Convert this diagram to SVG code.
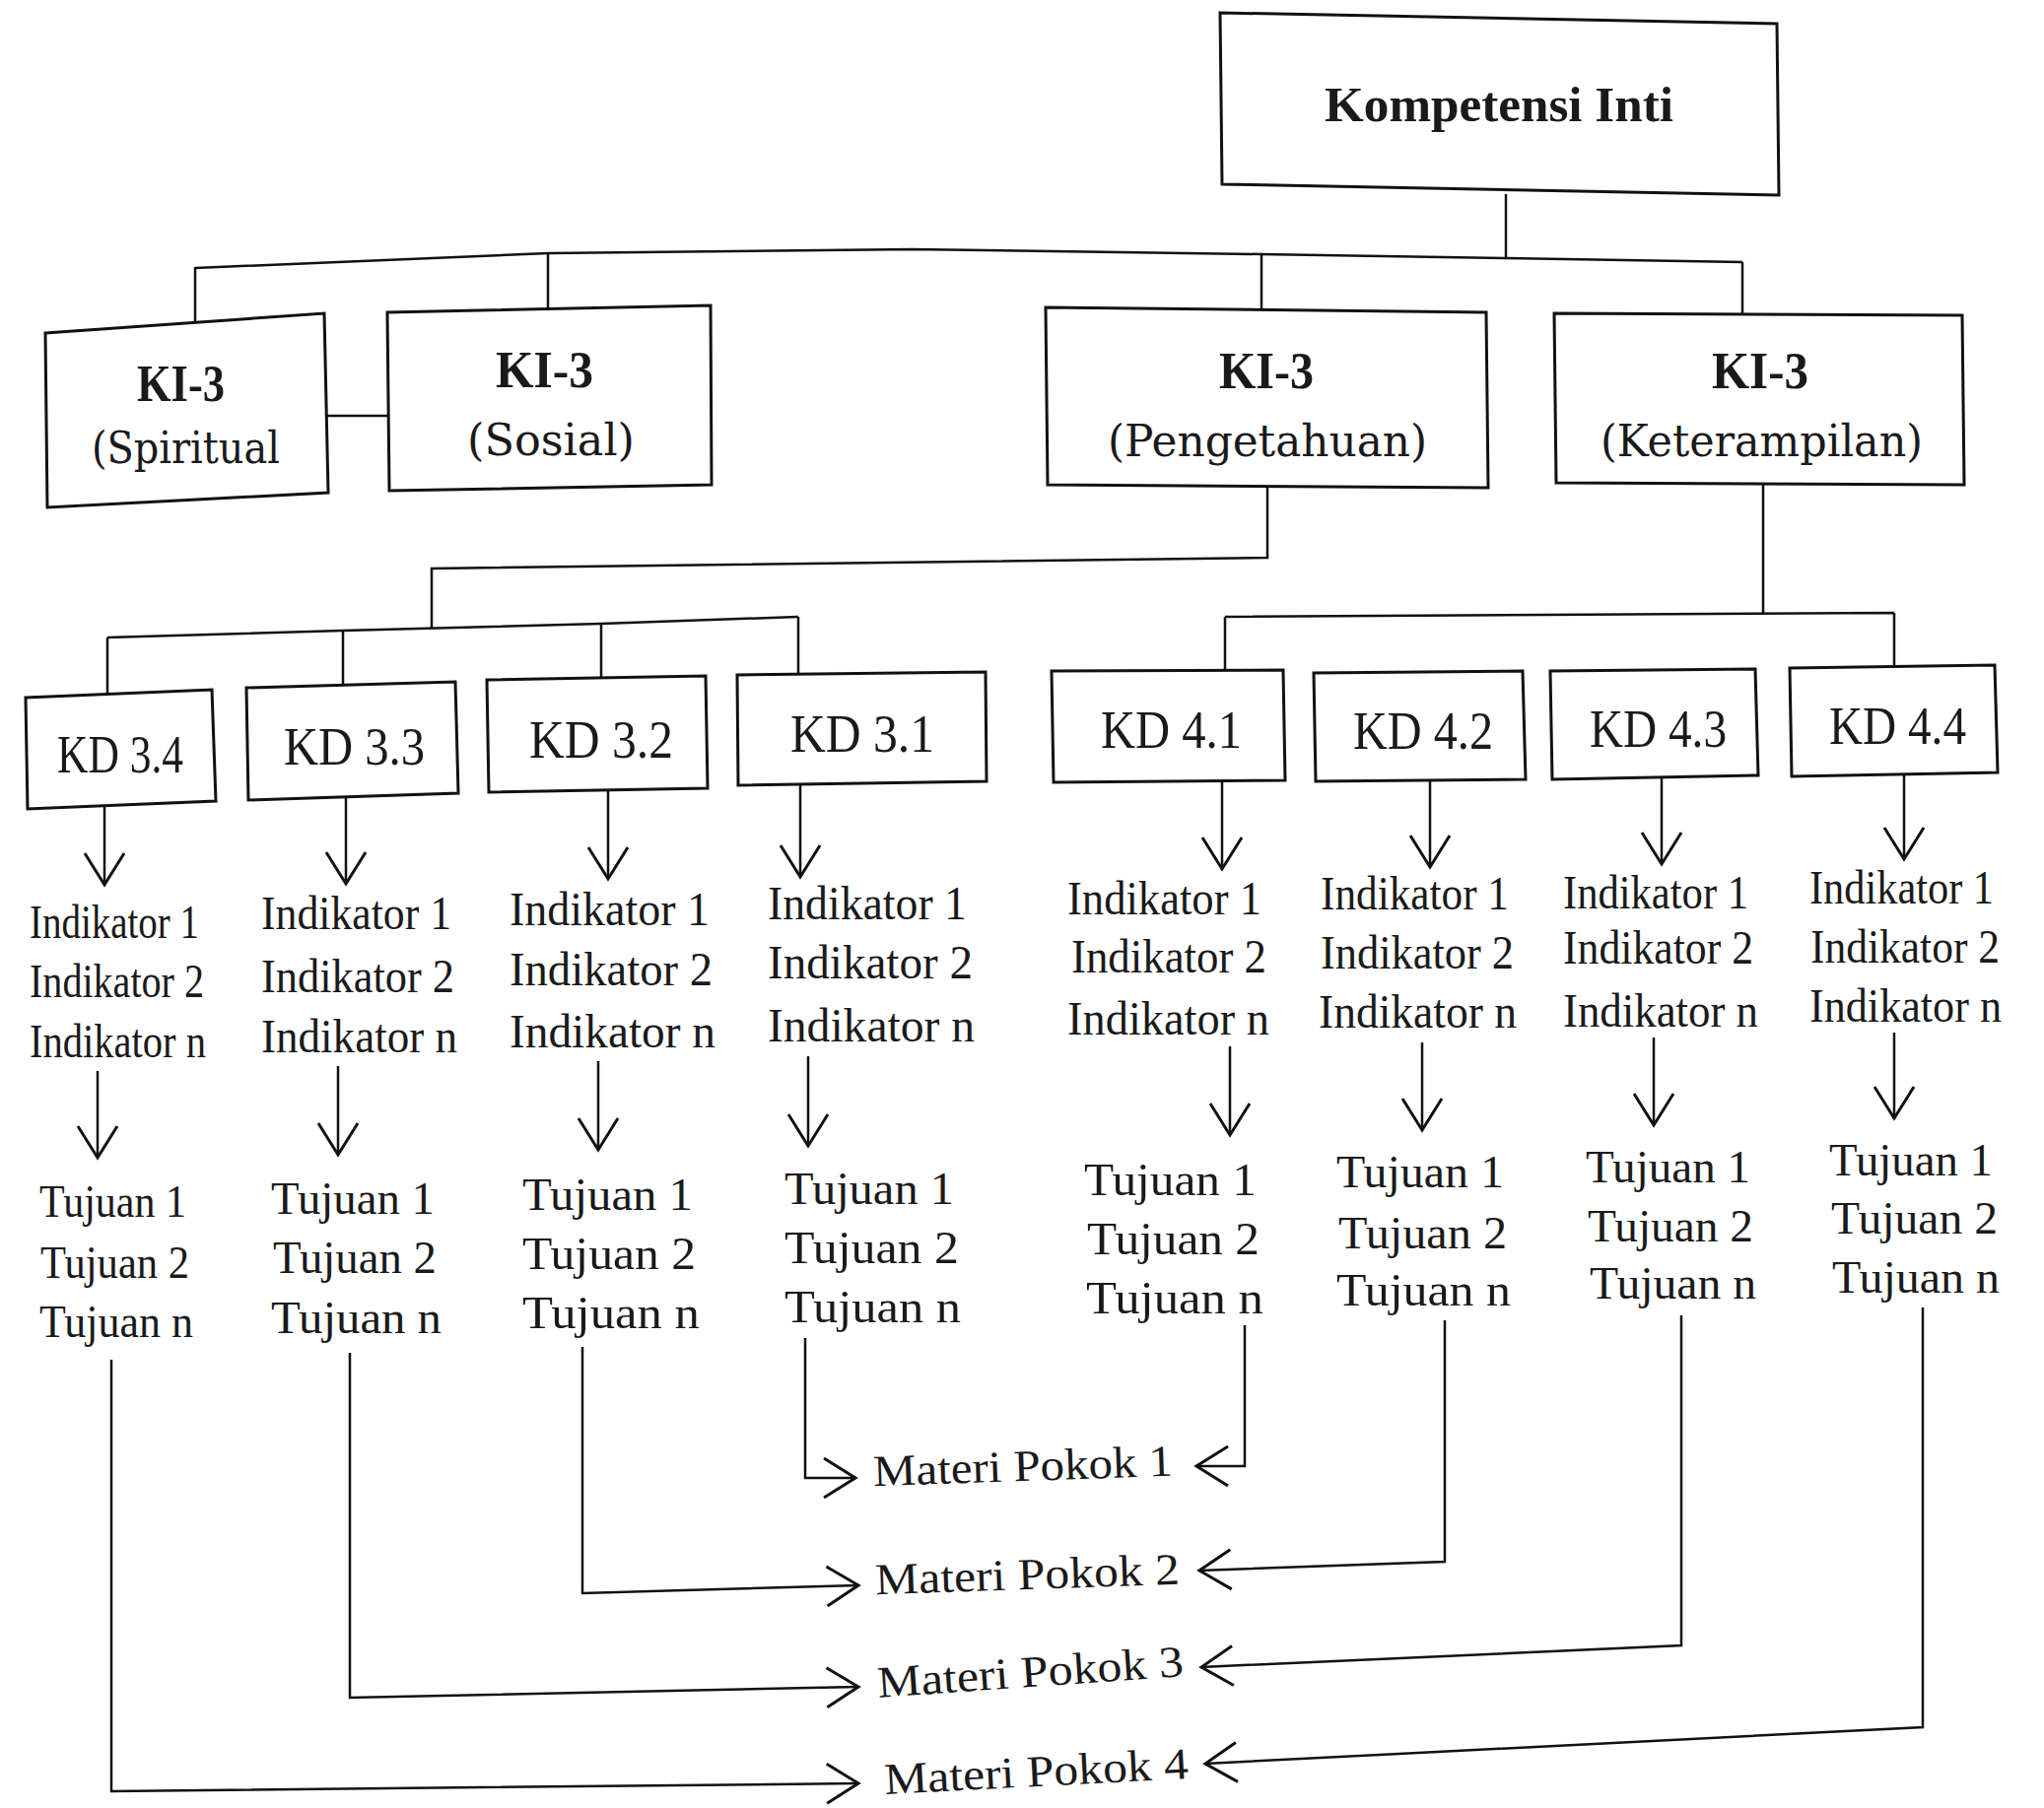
<svg xmlns="http://www.w3.org/2000/svg" width="2074" height="1835" viewBox="0 0 2074 1835">
<style>
.box{fill:#fff;stroke:#111;stroke-width:3;stroke-linejoin:miter}
.ln{fill:none;stroke:#111;stroke-width:2.5}
.ar{fill:none;stroke:#111;stroke-width:2.5;marker-end:url(#ah)}
.t{font-family:"Liberation Serif","Times New Roman",serif;fill:#1a1a1a}
.ki{font-family:"DejaVu Serif","Liberation Serif",serif;fill:#1a1a1a;font-size:44px}
.kib{font-family:"Liberation Serif","Times New Roman",serif;fill:#1a1a1a;font-size:52px;font-weight:bold}
.kd{font-size:54px}
.ind{font-size:48px}
.tuj{font-size:47px}
.mp{font-size:45px}
</style>
<defs>
<marker id="ah" markerUnits="userSpaceOnUse" markerWidth="40" markerHeight="48" viewBox="0 0 40 48" refX="36" refY="24" orient="auto">
<path d="M4,4 L36,24 L4,44" fill="none" stroke="#111" stroke-width="3"/>
</marker>
</defs>
<rect width="2074" height="1835" fill="#fff"/>

<g id="connectors">
<path class="ln" d="M1528,197 V262"/>
<polyline class="ln" points="198,272 556,257 926,253 1280,258 1528,262 1768,266"/>
<path class="ln" d="M198,271 V327 M556,257 V312 M1280,258 V314 M1768,266 V319"/>
<path class="ln" d="M331,422 H393"/>
<path class="ln" d="M1286,494 V566 L438,577 V637"/>
<polyline class="ln" points="109,647 348,640 610,633 810,626"/>
<path class="ln" d="M109,647 V705 M348,640 V694 M610,633 V688 M810,626 V684"/>
<path class="ln" d="M1789,491 V623"/>
<path class="ln" d="M1243,626 L1922,622 M1243,626 V681 M1922,622 V676"/>
<path class="ar" d="M106,818 V898"/>
<path class="ar" d="M351,809 V897"/>
<path class="ar" d="M617,802 V892"/>
<path class="ar" d="M812,795 V890"/>
<path class="ar" d="M1240,793 V882"/>
<path class="ar" d="M1451,792 V880"/>
<path class="ar" d="M1686,789 V877"/>
<path class="ar" d="M1932,786 V872"/>
<path class="ar" d="M99,1087 V1175"/>
<path class="ar" d="M343,1082 V1172"/>
<path class="ar" d="M607,1077 V1167"/>
<path class="ar" d="M820,1072 V1163"/>
<path class="ar" d="M1248,1062 V1152"/>
<path class="ar" d="M1443,1058 V1147"/>
<path class="ar" d="M1678,1053 V1142"/>
<path class="ar" d="M1922,1048 V1135"/>
<path class="ar" d="M817,1358 V1500 L868,1500"/>
<path class="ar" d="M1263,1345 V1488 L1214,1488"/>
<path class="ar" d="M591,1367 V1617 L871,1609"/>
<path class="ar" d="M1466,1340 V1585 L1217,1594"/>
<path class="ar" d="M355,1373 V1723 L871,1712"/>
<path class="ar" d="M1706,1335 V1670 L1219,1692"/>
<path class="ar" d="M113,1380 V1818 L871,1810"/>
<path class="ar" d="M1951,1327 V1753 L1223,1790"/>
</g>

<g id="kompetensi-inti">
<polygon class="box" points="1238,13 1803,24 1805,198 1240,187"/>
<text class="t" x="1344" y="123" font-size="50" font-weight="bold" textLength="354" lengthAdjust="spacingAndGlyphs">Kompetensi Inti</text>
</g>

<g id="ki-spiritual">
<polygon class="box" points="46,338 329,318 333,500 48,515"/>
<text class="kib" x="139" y="407" textLength="89" lengthAdjust="spacingAndGlyphs">KI-3</text>
<text class="ki" x="93" y="470" textLength="191" lengthAdjust="spacingAndGlyphs">(Spiritual</text>
</g>
<g id="ki-sosial">
<polygon class="box" points="393,317 721,310 722,492 395,498"/>
<text class="kib" x="503" y="393" textLength="99" lengthAdjust="spacingAndGlyphs">KI-3</text>
<text class="ki" x="474" y="462" textLength="170" lengthAdjust="spacingAndGlyphs">(Sosial)</text>
</g>
<g id="ki-pengetahuan">
<polygon class="box" points="1061,312 1508,317 1510,495 1063,492"/>
<text class="kib" x="1237" y="394" textLength="96" lengthAdjust="spacingAndGlyphs">KI-3</text>
<text class="ki" x="1124" y="463" textLength="324" lengthAdjust="spacingAndGlyphs">(Pengetahuan)</text>
</g>
<g id="ki-keterampilan">
<polygon class="box" points="1577,318 1991,320 1993,492 1579,490"/>
<text class="kib" x="1737" y="394" textLength="98" lengthAdjust="spacingAndGlyphs">KI-3</text>
<text class="ki" x="1624" y="463" textLength="327" lengthAdjust="spacingAndGlyphs">(Keterampilan)</text>
</g>

<g id="kd-3-4">
<polygon class="box" points="26,708 215,700 219,813 28,821"/>
<text class="t kd" x="58" y="784" textLength="128" lengthAdjust="spacingAndGlyphs">KD 3.4</text>
</g>
<g id="kd-3-3">
<polygon class="box" points="250,698 462,692 465,805 252,812"/>
<text class="t kd" x="288" y="776" textLength="143" lengthAdjust="spacingAndGlyphs">KD 3.3</text>
</g>
<g id="kd-3-2">
<polygon class="box" points="494,690 716,686 718,800 496,804"/>
<text class="t kd" x="537" y="769" textLength="146" lengthAdjust="spacingAndGlyphs">KD 3.2</text>
</g>
<g id="kd-3-1">
<polygon class="box" points="748,685 1000,682 1001,793 749,797"/>
<text class="t kd" x="802" y="763" textLength="146" lengthAdjust="spacingAndGlyphs">KD 3.1</text>
</g>
<g id="kd-4-1">
<polygon class="box" points="1067,681 1302,680 1304,792 1069,794"/>
<text class="t kd" x="1117" y="759" textLength="143" lengthAdjust="spacingAndGlyphs">KD 4.1</text>
</g>
<g id="kd-4-2">
<polygon class="box" points="1333,683 1545,681 1548,791 1335,793"/>
<text class="t kd" x="1373" y="760" textLength="142" lengthAdjust="spacingAndGlyphs">KD 4.2</text>
</g>
<g id="kd-4-3">
<polygon class="box" points="1573,681 1781,679 1784,787 1575,791"/>
<text class="t kd" x="1613" y="758" textLength="139" lengthAdjust="spacingAndGlyphs">KD 4.3</text>
</g>
<g id="kd-4-4">
<polygon class="box" points="1816,678 2024,675 2027,784 1818,788"/>
<text class="t kd" x="1856" y="755" textLength="139" lengthAdjust="spacingAndGlyphs">KD 4.4</text>
</g>

<g id="indikator-3-4" class="t ind">
<text x="30" y="952" textLength="172" lengthAdjust="spacingAndGlyphs">Indikator 1</text>
<text x="30" y="1012" textLength="177" lengthAdjust="spacingAndGlyphs">Indikator 2</text>
<text x="30" y="1073" textLength="179" lengthAdjust="spacingAndGlyphs">Indikator n</text>
</g>
<g id="indikator-3-3" class="t ind">
<text x="265" y="943" textLength="193" lengthAdjust="spacingAndGlyphs">Indikator 1</text>
<text x="265" y="1007" textLength="196" lengthAdjust="spacingAndGlyphs">Indikator 2</text>
<text x="265" y="1068" textLength="199" lengthAdjust="spacingAndGlyphs">Indikator n</text>
</g>
<g id="indikator-3-2" class="t ind">
<text x="517" y="939" textLength="203" lengthAdjust="spacingAndGlyphs">Indikator 1</text>
<text x="517" y="1000" textLength="206" lengthAdjust="spacingAndGlyphs">Indikator 2</text>
<text x="517" y="1063" textLength="209" lengthAdjust="spacingAndGlyphs">Indikator n</text>
</g>
<g id="indikator-3-1" class="t ind">
<text x="779" y="933" textLength="202" lengthAdjust="spacingAndGlyphs">Indikator 1</text>
<text x="779" y="993" textLength="208" lengthAdjust="spacingAndGlyphs">Indikator 2</text>
<text x="779" y="1057" textLength="210" lengthAdjust="spacingAndGlyphs">Indikator n</text>
</g>
<g id="indikator-4-1" class="t ind">
<text x="1083" y="928" textLength="197" lengthAdjust="spacingAndGlyphs">Indikator 1</text>
<text x="1087" y="987" textLength="198" lengthAdjust="spacingAndGlyphs">Indikator 2</text>
<text x="1083" y="1050" textLength="205" lengthAdjust="spacingAndGlyphs">Indikator n</text>
</g>
<g id="indikator-4-2" class="t ind">
<text x="1340" y="923" textLength="191" lengthAdjust="spacingAndGlyphs">Indikator 1</text>
<text x="1340" y="983" textLength="196" lengthAdjust="spacingAndGlyphs">Indikator 2</text>
<text x="1338" y="1043" textLength="201" lengthAdjust="spacingAndGlyphs">Indikator n</text>
</g>
<g id="indikator-4-3" class="t ind">
<text x="1586" y="922" textLength="188" lengthAdjust="spacingAndGlyphs">Indikator 1</text>
<text x="1586" y="978" textLength="193" lengthAdjust="spacingAndGlyphs">Indikator 2</text>
<text x="1586" y="1042" textLength="198" lengthAdjust="spacingAndGlyphs">Indikator n</text>
</g>
<g id="indikator-4-4" class="t ind">
<text x="1836" y="917" textLength="187" lengthAdjust="spacingAndGlyphs">Indikator 1</text>
<text x="1837" y="977" textLength="192" lengthAdjust="spacingAndGlyphs">Indikator 2</text>
<text x="1836" y="1037" textLength="195" lengthAdjust="spacingAndGlyphs">Indikator n</text>
</g>

<g id="tujuan-3-4" class="t tuj">
<text x="40" y="1235" textLength="149" lengthAdjust="spacingAndGlyphs">Tujuan 1</text>
<text x="41" y="1297" textLength="151" lengthAdjust="spacingAndGlyphs">Tujuan 2</text>
<text x="40" y="1357" textLength="156" lengthAdjust="spacingAndGlyphs">Tujuan n</text>
</g>
<g id="tujuan-3-3" class="t tuj">
<text x="275" y="1232" textLength="166" lengthAdjust="spacingAndGlyphs">Tujuan 1</text>
<text x="277" y="1292" textLength="166" lengthAdjust="spacingAndGlyphs">Tujuan 2</text>
<text x="275" y="1353" textLength="173" lengthAdjust="spacingAndGlyphs">Tujuan n</text>
</g>
<g id="tujuan-3-2" class="t tuj">
<text x="530" y="1228" textLength="173" lengthAdjust="spacingAndGlyphs">Tujuan 1</text>
<text x="530" y="1288" textLength="176" lengthAdjust="spacingAndGlyphs">Tujuan 2</text>
<text x="530" y="1348" textLength="180" lengthAdjust="spacingAndGlyphs">Tujuan n</text>
</g>
<g id="tujuan-3-1" class="t tuj">
<text x="796" y="1222" textLength="172" lengthAdjust="spacingAndGlyphs">Tujuan 1</text>
<text x="796" y="1282" textLength="177" lengthAdjust="spacingAndGlyphs">Tujuan 2</text>
<text x="796" y="1342" textLength="179" lengthAdjust="spacingAndGlyphs">Tujuan n</text>
</g>
<g id="tujuan-4-1" class="t tuj">
<text x="1100" y="1213" textLength="175" lengthAdjust="spacingAndGlyphs">Tujuan 1</text>
<text x="1103" y="1273" textLength="175" lengthAdjust="spacingAndGlyphs">Tujuan 2</text>
<text x="1102" y="1333" textLength="180" lengthAdjust="spacingAndGlyphs">Tujuan n</text>
</g>
<g id="tujuan-4-2" class="t tuj">
<text x="1356" y="1205" textLength="170" lengthAdjust="spacingAndGlyphs">Tujuan 1</text>
<text x="1358" y="1267" textLength="171" lengthAdjust="spacingAndGlyphs">Tujuan 2</text>
<text x="1356" y="1325" textLength="177" lengthAdjust="spacingAndGlyphs">Tujuan n</text>
</g>
<g id="tujuan-4-3" class="t tuj">
<text x="1609" y="1200" textLength="167" lengthAdjust="spacingAndGlyphs">Tujuan 1</text>
<text x="1611" y="1260" textLength="168" lengthAdjust="spacingAndGlyphs">Tujuan 2</text>
<text x="1613" y="1318" textLength="169" lengthAdjust="spacingAndGlyphs">Tujuan n</text>
</g>
<g id="tujuan-4-4" class="t tuj">
<text x="1856" y="1193" textLength="166" lengthAdjust="spacingAndGlyphs">Tujuan 1</text>
<text x="1858" y="1252" textLength="169" lengthAdjust="spacingAndGlyphs">Tujuan 2</text>
<text x="1859" y="1312" textLength="170" lengthAdjust="spacingAndGlyphs">Tujuan n</text>
</g>

<g id="materi-pokok-1">
<text class="t mp" x="886" y="1503" textLength="304" lengthAdjust="spacingAndGlyphs" transform="rotate(-2 1038 1490)">Materi Pokok 1</text>
</g>
<g id="materi-pokok-2">
<text class="t mp" x="888" y="1613" textLength="309" lengthAdjust="spacingAndGlyphs" transform="rotate(-2 1042 1600)">Materi Pokok 2</text>
</g>
<g id="materi-pokok-3">
<text class="t mp" x="890" y="1712" textLength="311" lengthAdjust="spacingAndGlyphs" transform="rotate(-4 1045 1698)">Materi Pokok 3</text>
</g>
<g id="materi-pokok-4">
<text class="t mp" x="897" y="1813" textLength="309" lengthAdjust="spacingAndGlyphs" transform="rotate(-3 1051 1800)">Materi Pokok 4</text>
</g>
</svg>
